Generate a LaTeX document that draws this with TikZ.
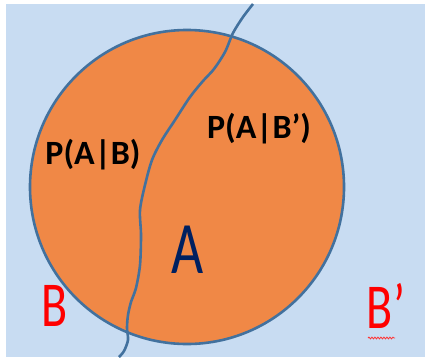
\documentclass[tikz,border=0pt]{standalone}
\usepackage{fontspec}
\setmainfont{Carlito}
\usetikzlibrary{decorations.pathmorphing}
\definecolor{sky}{RGB}{200,220,242}
\definecolor{peel}{RGB}{240,136,70}
\definecolor{rim}{RGB}{66,113,158}
\definecolor{navy}{RGB}{0,32,96}
\begin{document}
\begin{tikzpicture}[x=1pt,y=-1pt]
\useasboundingbox (0,0) rectangle (427,361);
\fill[sky] (6,4) rectangle (425,357);
\fill[peel] (187,187) circle (157);
\draw[rim, line width=2.6pt, line join=round] plot[smooth, tension=0.5] coordinates {
 (253,4) (243,17) (233,33) (225,52) (214,69) (203,81) (190,97) (175,120)
 (162,140) (152,160) (145,185) (140,210) (141,235) (140,265) (136,288)
 (131,302) (128,315) (127,328) (128,340) (124,351) (119,357)};
\draw[rim, line width=2.6pt] (187,187) circle (157);
\node[font=\bfseries\fontsize{34}{34}\selectfont] (pab) at (93,155) {P(A|B)};
\node[font=\bfseries\fontsize{34}{34}\selectfont] (pabc) at (259,129) {P(A|B’)};
\node[navy, font=\fontsize{74}{74}\selectfont, xscale=0.75] (a) at (188,250) {A};
\node[red, font=\fontsize{64}{64}\selectfont, xscale=0.75] (b) at (55,306) {B};
\node[red, font=\fontsize{64}{64}\selectfont, xscale=0.75] (bc) at (386,306) {B’};
\draw[red!80!white, line width=0.8pt, decorate,
  decoration={snake, amplitude=0.9pt, segment length=3pt}] (368,338) -- (395,338);
\end{tikzpicture}
\end{document}
